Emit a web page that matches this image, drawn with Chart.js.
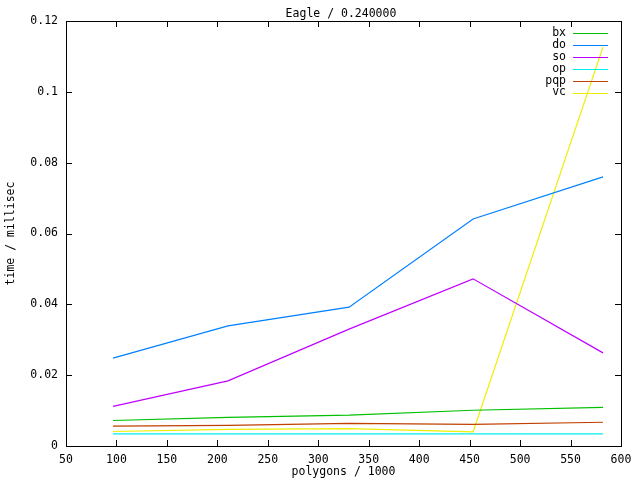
<!DOCTYPE html>
<html>
<head>
<meta charset="utf-8">
<style>
  html, body { margin: 0; padding: 0; background: #ffffff; }
  #wrap { width: 640px; height: 480px; }
</style>
<script src="https://cdn.jsdelivr.net/npm/chart.js@4/dist/chart.umd.min.js"></script>
</head>
<body>
<div id="wrap"><canvas id="c" width="640" height="480"></canvas></div>
<script>
const chartTitle = "Eagle / 0.240000";
const xTitle = "polygons / 1000";
const yTitle = "time / millisec";

const polygons = [96.6, 210.5, 330.5, 453.4, 582.2];
const bx  = [0.0072, 0.0081, 0.0087, 0.0101, 0.0109];
const doS = [0.0248, 0.0339, 0.0392, 0.0641, 0.0760];
const so  = [0.0112, 0.0184, 0.0330, 0.0472, 0.0263];
const op  = [0.0034, 0.0034, 0.0034, 0.0034, 0.0034];
const pqp = [0.0056, 0.0058, 0.0064, 0.0061, 0.0067];
const vc  = [0.0041, 0.0047, 0.0049, 0.0040, 0.1127];

const seriesNames  = ["bx", "do", "so", "op", "pqp", "vc"];
const seriesValues = [bx, doS, so, op, pqp, vc];
const seriesColors = ["#00c000", "#0080ff", "#c000ff", "#00eeee", "#c04000", "#eeee00"];

const xMin = 50, xMax = 600, xStep = 50;
const yMin = 0, yMax = 0.12, yStep = 0.02;

const FONT = "DejaVu Sans Mono";
const FSIZE = 11.5;

const datasets = seriesNames.map((name, i) => ({
  label: name,
  data: polygons.map((x, j) => ({ x: x, y: seriesValues[i][j] })),
  borderColor: seriesColors[i],
  backgroundColor: seriesColors[i],
  borderWidth: 1.2,
  pointRadius: 0,
  tension: 0,
  fill: false
}));

const gnuplotDecor = {
  id: 'gnuplotDecor',
  afterDraw(chart) {
    const ctx = chart.ctx;
    const a = chart.chartArea;
    const xs = chart.scales.x, ys = chart.scales.y;
    ctx.save();
    ctx.strokeStyle = '#000';
    ctx.lineWidth = 1;
    // border
    ctx.strokeRect(Math.round(a.left) + 0.5, Math.round(a.top) + 0.5,
                   Math.round(a.right - a.left), Math.round(a.bottom - a.top));
    // inside ticks
    const tl = 6;
    ctx.beginPath();
    xs.ticks.forEach(t => {
      const px = Math.round(xs.getPixelForValue(t.value)) + 0.5;
      ctx.moveTo(px, a.bottom); ctx.lineTo(px, a.bottom - tl);
      ctx.moveTo(px, a.top); ctx.lineTo(px, a.top + tl);
    });
    ys.ticks.forEach(t => {
      const py = Math.round(ys.getPixelForValue(t.value)) + 0.5;
      ctx.moveTo(a.left, py); ctx.lineTo(a.left + tl, py);
      ctx.moveTo(a.right, py); ctx.lineTo(a.right - tl, py);
    });
    ctx.stroke();

    ctx.fillStyle = '#000';
    ctx.font = FSIZE + 'px "' + FONT + '"';
    // title
    ctx.textAlign = 'center';
    ctx.textBaseline = 'middle';
    ctx.fillText(chartTitle, 341, 14);
    // x title
    ctx.fillText(xTitle, (a.left + a.right) / 2, 472);
    // y title
    ctx.save();
    ctx.translate(11, (a.top + a.bottom) / 2);
    ctx.rotate(-Math.PI / 2);
    ctx.fillText(yTitle, 0, 0);
    ctx.restore();

    // legend
    chart.data.datasets.forEach((ds, i) => {
      const y = 33 + i * 11.9;
      ctx.fillStyle = '#000';
      ctx.textAlign = 'right';
      ctx.textBaseline = 'middle';
      ctx.fillText(ds.label, 566, y);
      ctx.fillStyle = ds.borderColor;
      ctx.fillRect(573, Math.round(y), 35, 1);
    });
    ctx.restore();
  }
};

new Chart(document.getElementById('c'), {
  type: 'line',
  data: { datasets: datasets },
  options: {
    responsive: false,
    animation: false,
    events: [],
    layout: { padding: { top: 21, right: 19, left: 0, bottom: 0 } },
    plugins: {
      legend: { display: false },
      title: { display: false },
      tooltip: { enabled: false }
    },
    scales: {
      x: {
        type: 'linear',
        min: xMin, max: xMax,
        grid: { display: false, drawTicks: false },
        border: { display: false },
        ticks: {
          stepSize: xStep,
          padding: 7,
          maxRotation: 0,
          autoSkip: false,
          color: '#000',
          font: { family: FONT, size: FSIZE }
        },
        afterFit(s) { s.height = 34; }
      },
      y: {
        type: 'linear',
        min: yMin, max: yMax,
        grid: { display: false, drawTicks: false },
        border: { display: false },
        ticks: {
          stepSize: yStep,
          padding: 8,
          color: '#000',
          font: { family: FONT, size: FSIZE },
          callback: v => String(parseFloat(v.toFixed(2)))
        },
        afterFit(s) { s.width = 66; }
      }
    }
  },
  plugins: [gnuplotDecor]
});
</script>
</body>
</html>
